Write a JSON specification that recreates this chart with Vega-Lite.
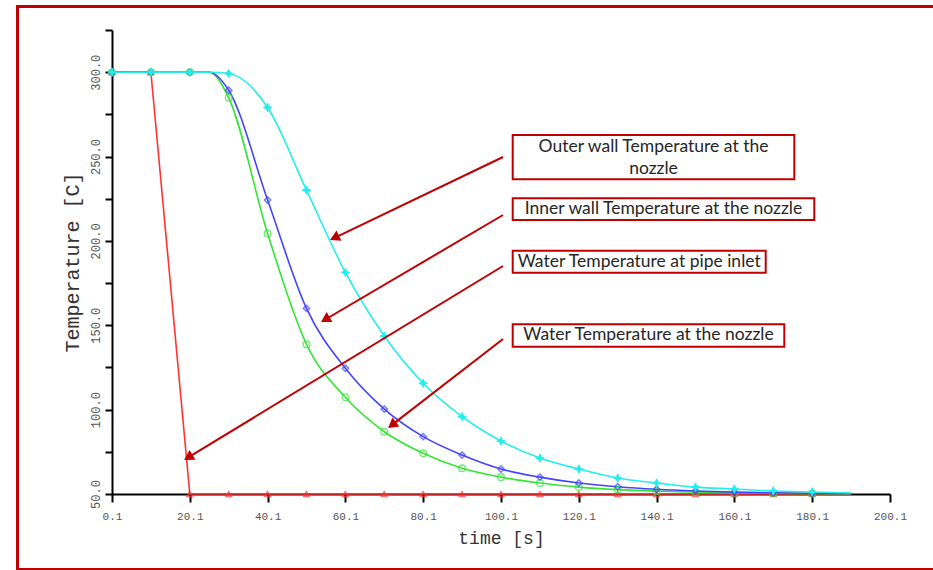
{
  "$schema": "https://vega.github.io/schema/vega-lite/v6.json",
  "width": 778,
  "height": 464,
  "autosize": {"type": "none"},
  "padding": {"left": 112, "top": 30, "right": 43, "bottom": 76},
  "background": "white",
  "config": {"view": {"stroke": null}, "axis": {"grid": false}},
  "datasets": {
    "temps": [
      {"s": "inlet", "t": 0.1, "T": 300}, {"s": "inlet", "t": 10.1, "T": 300}, {"s": "inlet", "t": 20.1, "T": 50},
      {"s": "inlet", "t": 30.1, "T": 50}, {"s": "inlet", "t": 40.1, "T": 50}, {"s": "inlet", "t": 50.1, "T": 50},
      {"s": "inlet", "t": 60.1, "T": 50}, {"s": "inlet", "t": 70.1, "T": 50}, {"s": "inlet", "t": 80.1, "T": 50},
      {"s": "inlet", "t": 90.1, "T": 50}, {"s": "inlet", "t": 100.1, "T": 50}, {"s": "inlet", "t": 110.1, "T": 50},
      {"s": "inlet", "t": 120.1, "T": 50}, {"s": "inlet", "t": 130.1, "T": 50}, {"s": "inlet", "t": 140.1, "T": 50},
      {"s": "inlet", "t": 150.1, "T": 50}, {"s": "inlet", "t": 160.1, "T": 50}, {"s": "inlet", "t": 170.1, "T": 50},
      {"s": "inlet", "t": 180.1, "T": 50}, {"s": "inlet", "t": 190.1, "T": 50},
      {"s": "nozzle", "t": 0.1, "T": 300}, {"s": "nozzle", "t": 10.1, "T": 300}, {"s": "nozzle", "t": 20.1, "T": 300},
      {"s": "nozzle", "t": 25.1, "T": 300}, {"s": "nozzle", "t": 30.1, "T": 284.8}, {"s": "nozzle", "t": 40.1, "T": 204.4},
      {"s": "nozzle", "t": 50.1, "T": 138.7}, {"s": "nozzle", "t": 60.1, "T": 107.3}, {"s": "nozzle", "t": 70.1, "T": 86.9},
      {"s": "nozzle", "t": 80.1, "T": 74.1}, {"s": "nozzle", "t": 90.1, "T": 65.2}, {"s": "nozzle", "t": 100.1, "T": 60},
      {"s": "nozzle", "t": 110.1, "T": 56.5}, {"s": "nozzle", "t": 120.1, "T": 54.1}, {"s": "nozzle", "t": 130.1, "T": 52.6},
      {"s": "nozzle", "t": 140.1, "T": 51.7}, {"s": "nozzle", "t": 150.1, "T": 51.1}, {"s": "nozzle", "t": 160.1, "T": 50.7},
      {"s": "nozzle", "t": 170.1, "T": 50.5}, {"s": "nozzle", "t": 180.1, "T": 50.3}, {"s": "nozzle", "t": 190.1, "T": 50.2},
      {"s": "inner", "t": 0.1, "T": 300}, {"s": "inner", "t": 10.1, "T": 300}, {"s": "inner", "t": 20.1, "T": 300},
      {"s": "inner", "t": 25.1, "T": 300}, {"s": "inner", "t": 30.1, "T": 289.3}, {"s": "inner", "t": 40.1, "T": 224.2},
      {"s": "inner", "t": 50.1, "T": 160}, {"s": "inner", "t": 60.1, "T": 124.5}, {"s": "inner", "t": 70.1, "T": 100.3},
      {"s": "inner", "t": 80.1, "T": 84}, {"s": "inner", "t": 90.1, "T": 73.1}, {"s": "inner", "t": 100.1, "T": 64.8},
      {"s": "inner", "t": 110.1, "T": 60}, {"s": "inner", "t": 120.1, "T": 56.5}, {"s": "inner", "t": 130.1, "T": 54.3},
      {"s": "inner", "t": 140.1, "T": 52.8}, {"s": "inner", "t": 150.1, "T": 51.8}, {"s": "inner", "t": 160.1, "T": 51.1},
      {"s": "inner", "t": 170.1, "T": 50.7}, {"s": "inner", "t": 180.1, "T": 50.4}, {"s": "inner", "t": 190.1, "T": 50.3},
      {"s": "outer", "t": 0.1, "T": 300}, {"s": "outer", "t": 10.1, "T": 300}, {"s": "outer", "t": 20.1, "T": 300},
      {"s": "outer", "t": 25.1, "T": 300}, {"s": "outer", "t": 30.1, "T": 299.2}, {"s": "outer", "t": 40.1, "T": 279.1},
      {"s": "outer", "t": 50.1, "T": 230.1}, {"s": "outer", "t": 60.1, "T": 181.3}, {"s": "outer", "t": 70.1, "T": 143.6},
      {"s": "outer", "t": 80.1, "T": 115.6}, {"s": "outer", "t": 90.1, "T": 95.8}, {"s": "outer", "t": 100.1, "T": 81.4},
      {"s": "outer", "t": 110.1, "T": 71.3}, {"s": "outer", "t": 120.1, "T": 64.8}, {"s": "outer", "t": 130.1, "T": 59.5},
      {"s": "outer", "t": 140.1, "T": 56.5}, {"s": "outer", "t": 150.1, "T": 54.1}, {"s": "outer", "t": 160.1, "T": 53},
      {"s": "outer", "t": 170.1, "T": 51.8}, {"s": "outer", "t": 180.1, "T": 51.2}, {"s": "outer", "t": 190.1, "T": 50.6}
    ],
    "frame": [{"t": -24.19, "t2": 215, "T": 338.9, "T2": 5.25}],
    "boxes": [
      {"id": 1, "t": 103.11, "t2": 175.5, "T": 262.77, "T2": 236.51},
      {"id": 2, "t": 103.11, "t2": 180.64, "T": 225.25, "T2": 212.39},
      {"id": 3, "t": 103.11, "t2": 168.15, "T": 194.2, "T2": 181.16},
      {"id": 4, "t": 103.11, "t2": 172.93, "T": 150.58, "T2": 137.3}
    ],
    "notes": [
      {"id": 1, "t": 139.3, "T": 255.66, "text": ["Outer wall Temperature at the", "nozzle"]},
      {"id": 2, "t": 141.87, "T": 218.73, "text": "Inner wall Temperature at the nozzle"},
      {"id": 3, "t": 135.63, "T": 187.68, "text": "Water Temperature at pipe inlet"},
      {"id": 4, "t": 138.02, "T": 143.94, "text": "Water Temperature at the nozzle"}
    ],
    "arrows": [
      {"id": 1, "t": 100.62, "T": 249.73, "t2": 57.3, "T2": 201.84},
      {"id": 2, "t": 100.62, "T": 215.36, "t2": 54.93, "T2": 153.42},
      {"id": 3, "t": 100.62, "T": 185.13, "t2": 19.71, "T2": 71.69},
      {"id": 4, "t": 100.62, "T": 141.87, "t2": 72.08, "T2": 90.95}
    ]
  },
  "layer": [
    {
      "data": {"name": "frame"},
      "mark": {"type": "rect", "fillOpacity": 0, "stroke": "#C00000", "strokeWidth": 3, "clip": false},
      "encoding": {
        "x": {"field": "t", "type": "quantitative",
          "scale": {"domain": [0.1, 200.1], "nice": false, "zero": false},
          "axis": {
            "orient": "bottom",
            "title": "time [s]",
            "values": [0.1, 10.1, 20.1, 30.1, 40.1, 50.1, 60.1, 70.1, 80.1, 90.1, 100.1, 110.1, 120.1, 130.1, 140.1, 150.1, 160.1, 170.1, 180.1, 190.1, 200.1],
            "labelExpr": "round((datum.value - 0.1) / 10) % 2 == 0 ? format(datum.value, '.1f') : ''",
            "domainColor": "#000", "domainWidth": 2, "tickColor": "#000", "tickWidth": 2, "tickSize": 8,
            "labelFont": "Liberation Mono", "labelFontSize": 11, "labelColor": "#555", "labelPadding": 8,
            "labelFlush": false, "labelOverlap": false,
            "titleFont": "Liberation Mono", "titleFontSize": 18, "titleFontWeight": "normal", "titleColor": "#333", "titlePadding": 8
          }},
        "x2": {"field": "t2"},
        "y": {"field": "T", "type": "quantitative",
          "scale": {"domain": [50, 325], "nice": false, "zero": false},
          "axis": {
            "orient": "left",
            "title": "Temperature [C]",
            "values": [50, 75, 100, 125, 150, 175, 200, 225, 250, 275, 300, 325],
            "labelExpr": "datum.value % 50 == 0 ? format(datum.value, '.1f') : ''",
            "domainColor": "#000", "domainWidth": 2, "tickColor": "#000", "tickWidth": 2, "tickSize": 7,
            "labelFont": "Liberation Mono", "labelFontSize": 12, "labelColor": "#555", "labelPadding": 6,
            "labelAngle": -90, "labelAlign": "center", "labelBaseline": "alphabetic",
            "labelFlush": false, "labelOverlap": false,
            "titleFont": "Liberation Mono", "titleFontSize": 20, "titleFontWeight": "normal", "titleColor": "#333", "titlePadding": 7
          }},
        "y2": {"field": "T2"}
      }
    },
    {
      "data": {"name": "temps"},
      "transform": [{"filter": "datum.s == 'inlet'"}],
      "mark": {"type": "line", "color": "#FF3333", "strokeWidth": 1.6, "interpolate": "linear"},
      "encoding": {"x": {"field": "t", "type": "quantitative"}, "y": {"field": "T", "type": "quantitative"}}
    },
    {
      "data": {"name": "temps"},
      "transform": [{"filter": "datum.s == 'nozzle'"}],
      "mark": {"type": "line", "color": "#33E633", "strokeWidth": 1.6, "interpolate": "monotone"},
      "encoding": {"x": {"field": "t", "type": "quantitative"}, "y": {"field": "T", "type": "quantitative"}}
    },
    {
      "data": {"name": "temps"},
      "transform": [{"filter": "datum.s == 'inner'"}],
      "mark": {"type": "line", "color": "#4444FF", "strokeWidth": 1.6, "interpolate": "monotone"},
      "encoding": {"x": {"field": "t", "type": "quantitative"}, "y": {"field": "T", "type": "quantitative"}}
    },
    {
      "data": {"name": "temps"},
      "transform": [{"filter": "datum.s == 'outer'"}],
      "mark": {"type": "line", "color": "#22EEEE", "strokeWidth": 1.6, "interpolate": "monotone"},
      "encoding": {"x": {"field": "t", "type": "quantitative"}, "y": {"field": "T", "type": "quantitative"}}
    },
    {
      "data": {"name": "temps"},
      "transform": [{"filter": "datum.s == 'inlet' && abs((datum.t - 0.1) / 10 - round((datum.t - 0.1) / 10)) < 0.01 && datum.t < 185"}],
      "mark": {"type": "point", "shape": "triangle-up", "filled": false, "color": "#FF3333", "size": 35, "strokeWidth": 1.3},
      "encoding": {"x": {"field": "t", "type": "quantitative"}, "y": {"field": "T", "type": "quantitative"}}
    },
    {
      "data": {"name": "temps"},
      "transform": [{"filter": "datum.s == 'nozzle' && abs((datum.t - 0.1) / 10 - round((datum.t - 0.1) / 10)) < 0.01 && datum.t < 185"}],
      "mark": {"type": "point", "shape": "circle", "filled": false, "color": "#33E633", "size": 45, "strokeWidth": 1.3},
      "encoding": {"x": {"field": "t", "type": "quantitative"}, "y": {"field": "T", "type": "quantitative"}}
    },
    {
      "data": {"name": "temps"},
      "transform": [{"filter": "datum.s == 'inner' && abs((datum.t - 0.1) / 10 - round((datum.t - 0.1) / 10)) < 0.01 && datum.t < 185"}],
      "mark": {"type": "point", "shape": "diamond", "filled": false, "color": "#4444FF", "size": 40, "strokeWidth": 1.5},
      "encoding": {"x": {"field": "t", "type": "quantitative"}, "y": {"field": "T", "type": "quantitative"}}
    },
    {
      "data": {"name": "temps"},
      "transform": [{"filter": "datum.s == 'outer' && abs((datum.t - 0.1) / 10 - round((datum.t - 0.1) / 10)) < 0.01 && datum.t < 185"}],
      "mark": {"type": "point", "shape": "M0,-1L0.3,-0.3L1,0L0.3,0.3L0,1L-0.3,0.3L-1,0L-0.3,-0.3Z", "filled": true, "fill": "#22EEEE", "stroke": "#22EEEE", "strokeWidth": 1, "size": 70, "opacity": 1},
      "encoding": {"x": {"field": "t", "type": "quantitative"}, "y": {"field": "T", "type": "quantitative"}}
    },
    {
      "data": {"name": "arrows"},
      "mark": {"type": "rule", "color": "#C00000", "strokeWidth": 2},
      "encoding": {
        "x": {"field": "t", "type": "quantitative"}, "y": {"field": "T", "type": "quantitative"},
        "x2": {"field": "t2"}, "y2": {"field": "T2"}
      }
    },
    {
      "data": {"name": "arrows"},
      "transform": [{"filter": "datum.id == 1"}],
      "mark": {"type": "point", "shape": "triangle-up", "filled": true, "color": "#C00000", "opacity": 1, "size": 130, "angle": 244.4},
      "encoding": {"x": {"field": "t2", "type": "quantitative"}, "y": {"field": "T2", "type": "quantitative"}}
    },
    {
      "data": {"name": "arrows"},
      "transform": [{"filter": "datum.id == 2"}],
      "mark": {"type": "point", "shape": "triangle-up", "filled": true, "color": "#C00000", "opacity": 1, "size": 130, "angle": 239.5},
      "encoding": {"x": {"field": "t2", "type": "quantitative"}, "y": {"field": "T2", "type": "quantitative"}}
    },
    {
      "data": {"name": "arrows"},
      "transform": [{"filter": "datum.id == 3"}],
      "mark": {"type": "point", "shape": "triangle-up", "filled": true, "color": "#C00000", "opacity": 1, "size": 130, "angle": 238.7},
      "encoding": {"x": {"field": "t2", "type": "quantitative"}, "y": {"field": "T2", "type": "quantitative"}}
    },
    {
      "data": {"name": "arrows"},
      "transform": [{"filter": "datum.id == 4"}],
      "mark": {"type": "point", "shape": "triangle-up", "filled": true, "color": "#C00000", "opacity": 1, "size": 130, "angle": 232.3},
      "encoding": {"x": {"field": "t2", "type": "quantitative"}, "y": {"field": "T2", "type": "quantitative"}}
    },
    {
      "data": {"name": "boxes"},
      "mark": {"type": "rect", "fill": "white", "stroke": "#C00000", "strokeWidth": 2, "clip": false},
      "encoding": {
        "x": {"field": "t", "type": "quantitative"}, "x2": {"field": "t2"},
        "y": {"field": "T", "type": "quantitative"}, "y2": {"field": "T2"}
      }
    },
    {
      "data": {"name": "notes"},
      "mark": {"type": "text", "font": "Lato", "fontSize": 17.5, "color": "#262626", "align": "center", "baseline": "middle", "lineHeight": 22},
      "encoding": {
        "x": {"field": "t", "type": "quantitative"}, "y": {"field": "T", "type": "quantitative"},
        "text": {"field": "text"}
      }
    }
  ]
}
